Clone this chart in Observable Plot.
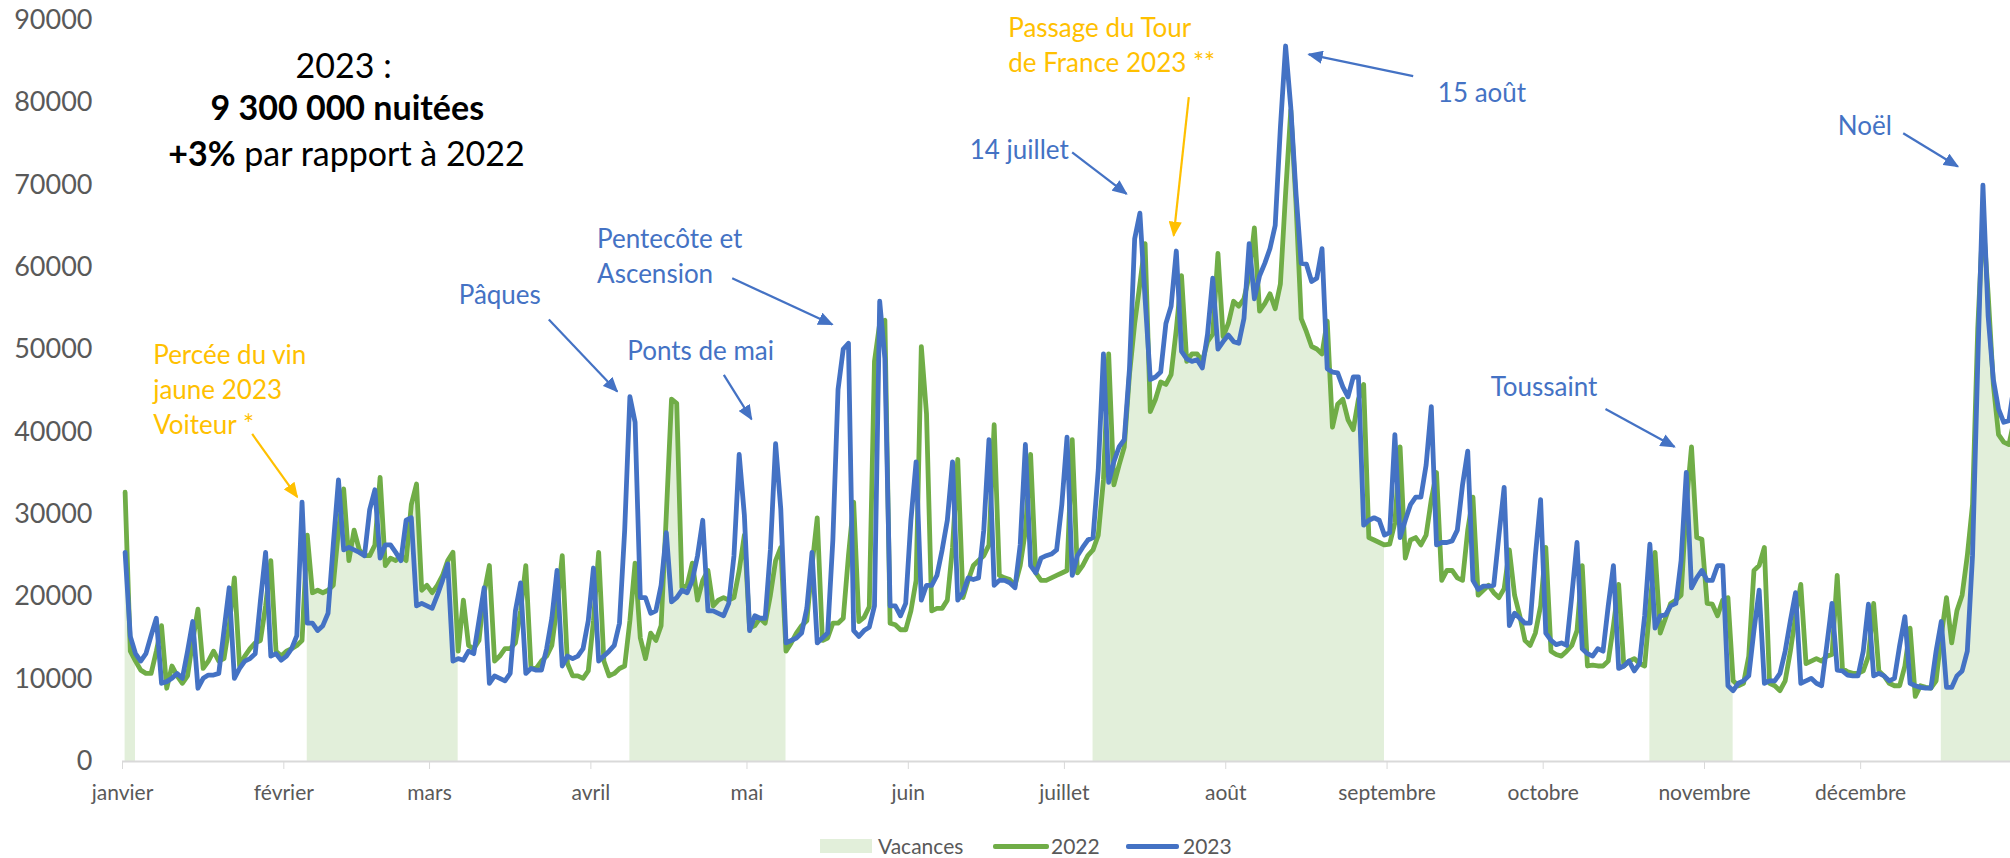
<!DOCTYPE html>
<html>
<head>
<meta charset="utf-8">
<script src="https://cdn.jsdelivr.net/npm/d3@7"></script>
<script src="https://cdn.jsdelivr.net/npm/@observablehq/plot@0.6"></script>
<style>
  body { margin: 0; background: #fff; font-family: Lato, sans-serif; }
  #wrap { position: relative; width: 2010px; height: 858px; overflow: hidden; background: #fff; }
  #wrap svg { position: absolute; left: 0; top: 0; }
  .lg { position: absolute; }
  .lgtxt { position: absolute; font-size: 21px; color: #595959; line-height: 28px; top: 832px; white-space: nowrap; }
</style>
</head>
<body>
<div id="wrap">
  <div class="lg" style="left:820px; top:839px; width:52px; height:14px; background:#E2EFDA;"></div>
  <div class="lgtxt" style="left:878px;">Vacances</div>
  <div class="lg" style="left:993px; top:844px; width:56px; height:5px; background:#70AD47; border-radius:2px;"></div>
  <div class="lgtxt" style="left:1051px;">2022</div>
  <div class="lg" style="left:1126px; top:844px; width:53px; height:5px; background:#4472C4; border-radius:2px;"></div>
  <div class="lgtxt" style="left:1183px;">2023</div>
</div>
<script>
// ---- Data ----
const monthNames = ["janvier","février","mars","avril","mai","juin","juillet","août","septembre","octobre","novembre","décembre"];
const monthStarts = [0,31,59,90,120,151,181,212,243,273,304,334];
const yTicks = [0,10000,20000,30000,40000,50000,60000,70000,80000,90000];

// Nuitées par jour (index 0 = 1er janvier)
const nuitees2022 = [
32700,13400,12200,11100,10700,10700,13400,16500,8900,11600,
10400,9500,10400,14700,18500,11300,12200,13400,12200,12500,
16500,22300,11600,12800,13700,14400,14700,18900,24400,13400,
12800,13400,13700,14100,14700,27500,20500,20800,20500,20800,
21400,28100,33100,24400,28100,25700,25000,25000,26300,34500,
23800,24700,24400,25000,24400,31200,33700,20800,21400,20500,
21400,22600,24400,25400,13400,19600,14100,13700,14700,20500,
23800,12200,12800,13700,13700,14400,18300,23800,11300,11300,
12200,12800,14100,18900,25000,11900,10400,10400,10100,11000,
17100,25400,12200,10400,10700,11300,11600,17100,24100,15000,
12500,15600,14700,16500,30000,44000,43500,21100,21400,24100,
19600,22000,23200,18900,19600,19900,19600,19900,23200,27500,
16200,16500,17400,16800,20200,24400,26000,13400,14400,15600,
16500,17100,23800,29600,14700,15000,16800,16800,17400,25000,
31500,17000,17500,18800,48600,53200,53600,16800,16600,16000,
16000,18300,22000,50400,42200,18300,18600,18600,19600,26000,
36700,19900,22000,23800,24400,25000,26300,40900,22600,22300,
22100,21400,23800,28000,37300,22900,22000,22000,22300,22600,
22900,23200,39100,22900,23800,25000,25700,27500,34200,49500,
33600,36000,38200,47000,53200,58000,62900,42500,44000,46100,
45800,47000,52500,59000,48600,49500,49500,48600,51000,51900,
61700,51600,53200,55900,55300,56200,59000,64800,54700,55600,
56800,55000,58000,69000,79100,67800,53800,52200,50400,50100,
49500,53500,40600,43400,44000,41500,40300,44000,45800,27200,
26900,26600,26300,26400,29000,38200,24700,26900,27200,26300,
27500,31800,35100,22000,23200,23200,22300,22000,28100,32100,
20200,20800,21400,20500,19900,21000,25700,20200,17700,14700,
14100,15600,18900,26000,13400,13000,12800,13400,14100,15900,
23800,11600,11700,11600,11600,12200,16500,21500,11600,12200,
12500,11900,11600,18900,25400,15600,17400,19200,19600,20200,
31200,38200,27200,27000,19200,19100,17700,19600,19900,9800,
9200,9500,12800,23200,23800,26000,9500,9200,8600,9800,
13400,17700,21500,11900,12200,12500,12200,12800,13000,22600,
11300,10900,10700,10700,11000,12800,19200,11000,10400,9500,
9200,9200,11600,16200,7900,9200,9000,8900,9800,15300,
19900,14400,18300,20200,25000,31200,52500,66000,56800,45800,
39700,38800,38500,41500,41000
];
const nuitees2023 = [
25400,15200,13100,12200,13100,15300,17400,9500,9700,10100,
10700,10100,13400,17000,8900,10100,10500,10500,10700,15900,
21100,10100,11300,12200,12500,13100,19500,25400,12800,13100,
12300,12800,13700,15300,31500,16800,16800,15900,16500,18000,
26300,34200,25700,26000,25700,25400,25000,30600,33000,24700,
26300,26300,25400,24400,29300,29600,18900,19200,18900,18600,
20200,22000,24000,12200,12500,12300,13400,13100,17100,21100,
9500,10400,10100,9800,10700,18300,21700,10700,11300,11100,
11100,13700,17400,23200,11600,12800,12500,12800,13700,17100,
23500,12200,12800,13400,14100,16800,28100,44300,41200,19900,
19900,18000,18300,21400,27800,19400,19900,20800,20500,22000,
25000,29300,18300,18300,18000,17700,19200,25000,37300,29900,
15900,17700,17400,17400,25700,38600,30600,14400,14700,15000,
15600,18600,25400,14400,15000,15600,26900,45200,50100,50800,
15900,15200,15900,16300,18900,55900,48900,18900,18900,17700,
19200,29300,36400,19600,21400,21400,22600,25700,29300,36400,
19600,20500,22300,22100,22300,28100,39100,21400,22000,22000,
21700,21100,26300,38500,23800,22900,24700,25000,25200,25700,
31200,39400,22600,25000,26000,26900,27200,35400,49500,33900,
36400,38200,39100,47700,63500,66600,56200,46400,46700,47300,
53200,55300,62000,49800,48900,48600,48800,47800,51900,58700,
50100,51000,51800,51000,50800,53800,62900,56200,59000,60500,
62300,65100,77000,86900,79400,69000,60500,60400,58300,58700,
62300,47700,47300,47200,45500,44300,46700,46700,28700,29300,
29600,29300,27500,27800,39700,27200,29300,31200,32100,32100,
36000,43100,26300,26600,26600,26800,28100,33600,37700,22000,
20900,21300,21300,21400,27500,33300,16500,18000,17400,16800,
16800,25000,31800,15600,14700,14200,14400,14100,20200,26600,
13700,13100,12800,13700,13400,18900,23800,11300,11600,12200,
11000,11900,17700,26400,16200,17700,17800,18900,19200,24400,
35100,21100,22300,23200,22000,22000,23800,23800,9200,8600,
9500,9800,10400,15900,20800,9500,9800,9800,10700,13400,
17100,20500,9500,9800,10100,9500,9200,14100,19200,11100,
11000,10500,10400,10400,13400,19100,10400,10700,10400,9800,
10100,14100,17600,9500,9200,9000,8900,8900,13400,17000,
9000,9000,10400,11000,13400,25000,48300,70000,54100,46400,
42800,41200,41400,45800,45000
];

// Vacances scolaires (premier et dernier jour, index de jour)
const vacStart = [0, 35, 97, 186, 293, 349];
const vacEnd   = [2, 64, 127, 242, 309, 364];

// Annotations
const noteLabels = ["Percée du vin\njaune 2023\nVoiteur *", "Pâques", "Pentecôte et\nAscension", "Ponts de mai",
  "Passage du Tour\nde France 2023 **", "14 juillet", "15 août", "Toussaint", "Noël"];
const noteDay   = [5.9, 64.6, 91.2, 97.0, 170.2, 162.8, 252.75, 262.9, 329.6];
const noteValue = [45360, 56880, 61570, 50140, 87240, 74590, 81420, 45730, 77460];
const noteKind  = ["event","holiday","holiday","holiday","event","holiday","holiday","holiday","holiday"];
const arrowDay1 = [24.92, 81.92, 117.16, 115.55, 204.9, 182.49, 248.02, 284.97, 342.18];
const arrowVal1 = [39780, 53680, 58700, 46960, 80690, 73980, 83250, 42810, 76300];
const arrowDay2 = [33.57, 95.06, 136.38, 120.87, 202.0, 192.93, 227.96, 298.23, 352.67];
const arrowVal2 = [32140, 44950, 53080, 41580, 63880, 68950, 85890, 38220, 72270];

const summaryLines = ["2023 :", "9 300 000 nuitées", "+3% par rapport à 2022"];
const summaryDay = [42.5, 43.2, 43.05];
const summaryValue = [84360, 79200, 73620];

// ---- Build tables ----
const BLUE = "#4472C4", GREEN = "#70AD47", ORANGE = "#FFC000", SHADE = "#E2EFDA", GREY = "#595959";
const rows = nuitees2022.map((v, i) => ({day: i + 0.5, v22: v, v23: nuitees2023[i]}));
const vacRows = vacStart.flatMap((s, p) => d3.range(s, vacEnd[p] + 1).map(i => ({day: i + 0.5, value: nuitees2022[i], period: p})));
const notes = noteLabels.map((t, i) => ({text: t, x: noteDay[i], y: noteValue[i], color: noteKind[i] === "event" ? ORANGE : BLUE}));
const arrows = arrowDay1.map((x1, i) => ({x1, y1: arrowVal1[i], x2: arrowDay2[i], y2: arrowVal2[i], color: noteKind[i] === "event" ? ORANGE : BLUE}));
const summary = summaryLines.map((t, i) => ({text: t, x: summaryDay[i], y: summaryValue[i]}));

const chart = Plot.plot({
  width: 2010,
  height: 815,
  marginLeft: 122, marginRight: 0, marginTop: 20, marginBottom: 54,
  style: {fontFamily: "Lato, sans-serif", background: "#fff", overflow: "hidden"},
  x: {domain: [0, 365], range: [122, 122 + 365 * 5.204]},
  y: {domain: [0, 90000], range: [761, 20]},
  marks: [
    Plot.areaY(vacRows, {x: "day", y: "value", z: "period", fill: SHADE}),
    Plot.ruleY([0], {stroke: "#D9D9D9", strokeWidth: 2}),
    Plot.axisX({ticks: monthStarts, tickSize: 8, color: "#D9D9D9", tickFormat: () => "", label: null}),
    Plot.axisX({ticks: monthStarts, tickSize: 0, tickPadding: 24, color: GREY, fontSize: 21,
      tickFormat: d => monthNames[monthStarts.indexOf(d)], label: null}),
    Plot.axisY({ticks: yTicks, tickSize: 0, tickPadding: 30, color: GREY, fontSize: 27,
      tickFormat: d3.format("d"), label: null}),
    Plot.line(rows, {x: "day", y: "v22", stroke: GREEN, strokeWidth: 4.8}),
    Plot.line(rows, {x: "day", y: "v23", stroke: BLUE, strokeWidth: 4.8}),
    Plot.link(arrows, {x1: "x1", y1: "y1", x2: "x2", y2: "y2", stroke: "color", strokeWidth: 2.2}),
    Plot.text(notes, {x: "x", y: "y", text: "text", fill: "color", fontSize: 26, textAnchor: "start", lineHeight: 1.34}),
    Plot.text(summary, {x: "x", y: "y", text: "text", fill: "#000", fontSize: 34, textAnchor: "middle"})
  ]
});

// Filled arrow heads
const svg = d3.select(chart);
const defs = svg.insert("defs", ":first-child");
[[BLUE, "ahb"], [ORANGE, "aho"]].forEach(([c, id]) => {
  defs.append("marker").attr("id", id).attr("viewBox", "0 0 10 10").attr("refX", 9).attr("refY", 5)
    .attr("markerWidth", 7).attr("markerHeight", 6).attr("markerUnits", "strokeWidth")
    .attr("preserveAspectRatio", "none").attr("orient", "auto")
    .append("path").attr("d", "M0,0L10,5L0,10z").attr("fill", c);
});
svg.selectAll("g[aria-label=link] path").each(function() {
  const s = (this.getAttribute("stroke") || "").toLowerCase();
  this.setAttribute("marker-end", s === ORANGE.toLowerCase() ? "url(#aho)" : "url(#ahb)");
});
// Bold parts of the summary
svg.selectAll("text").each(function() {
  if (this.textContent === summaryLines[1]) {
    this.setAttribute("font-weight", "bold");
  } else if (this.textContent === summaryLines[2]) {
    const parts = summaryLines[2].split(" ");
    this.textContent = "";
    d3.select(this).append("tspan").attr("font-weight", "bold").text(parts[0]);
    d3.select(this).append("tspan").text(" " + parts.slice(1).join(" "));
  }
});
document.getElementById("wrap").prepend(chart);
</script>
</body>
</html>
